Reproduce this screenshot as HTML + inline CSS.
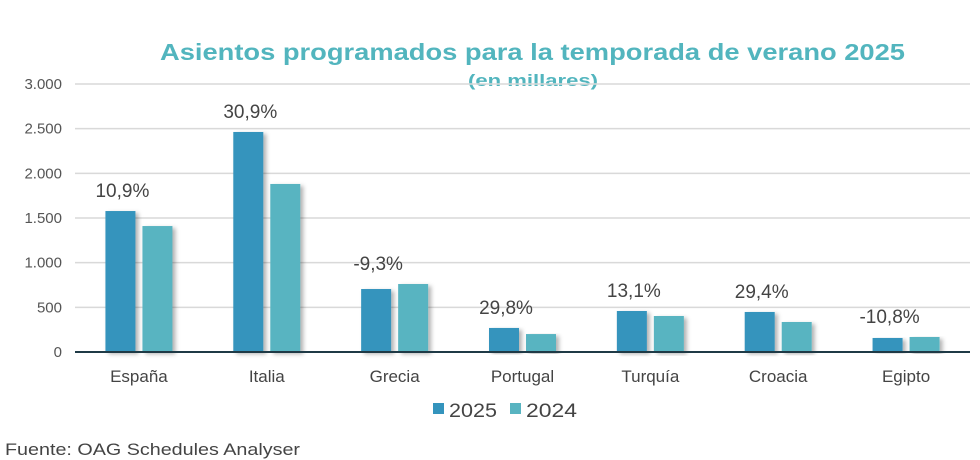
<!DOCTYPE html>
<html><head><meta charset="utf-8">
<style>
body{margin:0;background:#fff;font-family:"Liberation Sans",sans-serif;}
#wrap{position:relative;width:980px;height:460px;overflow:hidden;}
</style></head>
<body>
<div id="wrap">
<svg id="chart" width="980" height="460">
<defs><filter id="sh" x="-20%" y="-5%" width="150%" height="115%"><feDropShadow dx="3" dy="2" stdDeviation="2" flood-color="#000" flood-opacity="0.3"/></filter></defs>
<text x="160" y="60" textLength="745" lengthAdjust="spacingAndGlyphs" font-size="23" font-weight="bold" fill="#52b5be">Asientos programados para la temporada de verano 2025</text>
<text x="468" y="86" textLength="130" lengthAdjust="spacingAndGlyphs" font-size="17" font-weight="bold" fill="#52b5be">(en millares)</text>
<g id="grid"></g><g id="bars"></g><g id="labels"></g>
<g>
<rect x="433" y="403" width="11" height="11" fill="#3494bd"/>
<text x="449" y="417" textLength="48" lengthAdjust="spacingAndGlyphs" font-size="19" fill="#444">2025</text>
<rect x="510" y="403" width="11" height="11" fill="#58b4c1"/>
<text x="526" y="417" textLength="51" lengthAdjust="spacingAndGlyphs" font-size="19" fill="#444">2024</text>
</g>
<text x="5" y="455" textLength="295" lengthAdjust="spacingAndGlyphs" font-size="17" fill="#444">Fuente: OAG Schedules Analyser</text>
</svg>
</div>
<script>
const categories=["España","Italia","Grecia","Portugal","Turquía","Croacia","Egipto"];
const values2025=[1578,2463,705,269,459,448,157];
const values2024=[1410,1881,761,201,403,336,168];
const changeLabels=["10,9%","30,9%","-9,3%","29,8%","13,1%","29,4%","-10,8%"];
const yTicks=[0,500,1000,1500,2000,2500,3000];
const yTickLabels=["0","500","1.000","1.500","2.000","2.500","3.000"];
const NS="http://www.w3.org/2000/svg";
const x0=75,x1=970,yb=352,yt=84,ymax=3000;
const y=v=>yb-(v/ymax)*(yb-yt);
const step=(x1-x0)/categories.length;
const xc=i=>x0+step*(i+0.5);
function mk(t,a,p){const e=document.createElementNS(NS,t);for(const k in a)e.setAttribute(k,a[k]);p.appendChild(e);return e;}
const g=document.getElementById('grid'),b=document.getElementById('bars'),l=document.getElementById('labels');
yTicks.forEach((v,i)=>{
 if(v>0){const ln=mk('line',{x1:x0,x2:x1,y1:y(v),y2:y(v),stroke:'#d9d9d9','stroke-width':1.5},g);
 
 }
 const t=mk('text',{x:62,y:y(v)+5,'text-anchor':'end','font-size':15,fill:'#555'},g);t.textContent=yTickLabels[i];
 
 
});
const bw=30,gap=7;
categories.forEach((c,i)=>{
 const cx=xc(i);
 const r1=mk('rect',{x:cx-gap/2-bw,y:y(values2025[i]),width:bw,height:yb-y(values2025[i]),fill:'#3494bd',filter:'url(#sh)'},b);
 
 
 const r2=mk('rect',{x:cx+gap/2,y:y(values2024[i]),width:bw,height:yb-y(values2024[i]),fill:'#58b4c1',filter:'url(#sh)'},b);
 
 
 const top=Math.max(values2025[i],values2024[i]);
 const t=mk('text',{x:cx-gap/2-bw/2+2,y:y(top)-14,'text-anchor':'middle','font-size':19,fill:'#444'},l);t.textContent=changeLabels[i];
 
 
 const ct=mk('text',{x:cx,y:382,'text-anchor':'middle','font-size':17,fill:'#444'},l);ct.textContent=c;
 
 
});
const ax=mk('line',{x1:x0,x2:x1,y1:yb,y2:yb,stroke:'#1f3a46','stroke-width':2},l);


</script>
</body></html>
